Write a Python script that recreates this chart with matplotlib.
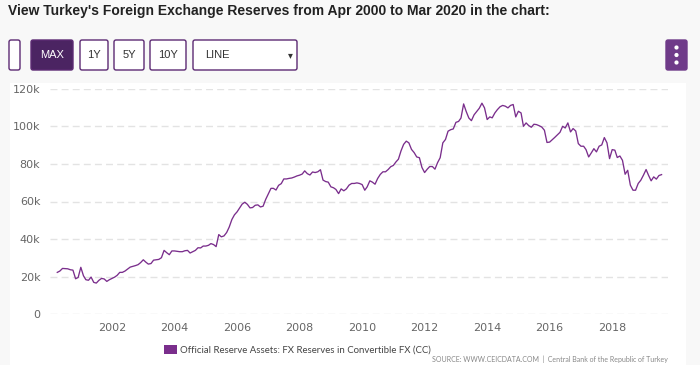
"""Turkey FX reserves (CEIC style line chart) -> out.png"""

import matplotlib

matplotlib.use("Agg")
import matplotlib.dates as mdates
import matplotlib.pyplot as plt
import pandas as pd
from matplotlib.patches import Circle, FancyBboxPatch, Rectangle

W, H = 700, 365

TITLE = "View Turkey's Foreign Exchange Reserves from Apr 2000 to Mar 2020 in the chart:"
SERIES_NAME = "Official Reserve Assets: FX Reserves in Convertible FX (CC)"
SOURCE_LEFT = "SOURCE: WWW.CEICDATA.COM"
SOURCE_RIGHT = "Central Bank of the Republic of Turkey"
START = "2000-04-01"

# monthly values in USD bn (plotted x1000 -> USD mn)
fx_2000 = [22.3, 23.0, 24.4, 24.3, 24.2, 23.7, 23.5, 18.9, 19.6]
fx_2001 = [25.0, 20.5, 18.4, 18.1, 19.8, 17.0, 16.6, 18.1, 19.1, 18.8, 17.5, 18.4]
fx_2002 = [19.1, 19.8, 20.7, 22.3, 22.3, 23.0, 24.0, 25.1, 25.5, 25.9, 26.4, 27.5]
fx_2003 = [29.0, 27.7, 26.7, 27.0, 28.8, 29.0, 29.2, 30.1, 34.0, 32.8, 31.7, 33.7]
fx_2004 = [33.7, 33.5, 33.3, 33.3, 33.8, 34.0, 32.6, 33.3, 34.0, 35.4, 35.3, 36.3]
fx_2005 = [36.3, 36.7, 37.6, 37.1, 36.0, 42.4, 41.2, 41.7, 43.5, 46.4, 50.4, 52.9]
fx_2006 = [54.5, 56.6, 58.6, 59.6, 58.5, 56.6, 56.8, 58.0, 58.2, 57.1, 57.5, 61.1]
fx_2007 = [64.1, 67.0, 67.0, 66.1, 68.6, 69.5, 72.0, 72.0, 72.3, 72.5, 73.0, 73.6]
fx_2008 = [74.0, 74.6, 76.3, 74.8, 74.1, 75.7, 75.4, 75.8, 76.9, 71.4, 70.6, 70.3]
fx_2009 = [67.8, 67.3, 66.4, 64.2, 66.7, 65.7, 66.7, 68.7, 69.6, 69.6, 69.9, 69.6]
fx_2010 = [69.0, 66.0, 67.8, 71.0, 70.3, 69.2, 72.2, 74.4, 75.8, 75.8, 77.0, 78.5]
fx_2011 = [79.2, 81.1, 82.5, 87.0, 90.4, 92.1, 91.2, 87.7, 86.0, 83.7, 83.3, 78.1]
fx_2012 = [75.4, 77.2, 78.6, 78.6, 77.2, 80.7, 83.3, 91.2, 93.0, 97.4, 98.2, 98.6]
fx_2013 = [102.1, 102.6, 104.4, 111.9, 107.9, 104.4, 103.0, 106.1, 107.9, 109.6, 112.3, 109.8]
fx_2014 = [103.6, 105.0, 104.5, 107.1, 108.9, 110.4, 111.1, 110.7, 109.8, 111.1, 111.6, 105.0]
fx_2015 = [108.0, 107.1, 100.0, 101.8, 100.4, 99.5, 101.1, 100.9, 100.3, 99.6, 97.9, 91.4]
fx_2016 = [91.6, 92.9, 94.1, 95.5, 96.8, 100.0, 99.1, 101.8, 97.0, 98.8, 97.5, 90.8]
fx_2017 = [89.4, 89.4, 87.6, 83.7, 85.8, 88.1, 86.4, 89.4, 90.1, 94.0, 91.2, 82.8]
fx_2018 = [87.6, 87.3, 83.4, 84.2, 81.9, 74.5, 76.6, 68.7, 66.0, 66.0, 69.6, 71.3]
fx_2019 = [74.0, 77.0, 74.0, 71.0, 73.1, 71.9, 73.8, 74.3]

y_ticks = [0, 20, 40, 60, 80, 100, 120]
y_tick_labels = ["0", "20k", "40k", "60k", "80k", "100k", "120k"]
x_tick_years = [2002, 2004, 2006, 2008, 2010, 2012, 2014, 2016, 2018]

range_buttons = ["MAX", "1Y", "5Y", "10Y"]

PURPLE = "#7a2e8c"
DARK_PURPLE = "#4b2462"
BORDER = "#5c2a73"


def main() -> None:
    values = (fx_2000 + fx_2001 + fx_2002 + fx_2003 + fx_2004 + fx_2005 + fx_2006
              + fx_2007 + fx_2008 + fx_2009 + fx_2010 + fx_2011 + fx_2012 + fx_2013
              + fx_2014 + fx_2015 + fx_2016 + fx_2017 + fx_2018 + fx_2019)
    dates = pd.date_range(START, periods=len(values), freq="MS")
    values = [v * 1000 for v in values]

    fig = plt.figure(figsize=(W / 100, H / 100), dpi=100)
    fig.patch.set_facecolor("#f8f8f8")

    # pixel canvas for the page furniture
    bg = fig.add_axes([0, 0, 1, 1], zorder=0)
    bg.set_xlim(0, W)
    bg.set_ylim(H, 0)
    bg.axis("off")

    bg.add_patch(Rectangle((10, 83), 676, 282, facecolor="white", edgecolor="none"))

    bg.text(8, 11, TITLE, fontsize=10, fontweight="bold", family="Liberation Sans",
            color="#222222", va="center", ha="left")

    # buttons
    bg.add_patch(FancyBboxPatch((9, 40), 11, 30, boxstyle="round,pad=0,rounding_size=2",
                                facecolor="white", edgecolor=BORDER, lw=1))
    spans = [(31, 73), (80, 108), (114, 144), (150, 186)]
    for label, (x0, x1) in zip(range_buttons, spans):
        active = label == "MAX"
        bg.add_patch(FancyBboxPatch((x0, 40), x1 - x0, 30,
                                    boxstyle="round,pad=0,rounding_size=2",
                                    facecolor=DARK_PURPLE if active else "white",
                                    edgecolor=BORDER, lw=1))
        bg.text((x0 + x1) / 2, 55.5, label, fontsize=8, family="Liberation Sans",
                color="white" if active else "#333333", ha="center", va="center")
    bg.add_patch(FancyBboxPatch((193, 40), 104, 30, boxstyle="round,pad=0,rounding_size=2",
                                facecolor="white", edgecolor=BORDER, lw=1))
    bg.text(205, 55.5, "LINE", fontsize=8, family="Liberation Sans", color="#333333",
            ha="left", va="center")
    bg.text(290, 55, "\u25be", fontsize=7, family="DejaVu Sans", color="#333333",
            ha="center", va="center")

    bg.add_patch(FancyBboxPatch((666, 40), 21, 30, boxstyle="round,pad=0,rounding_size=2",
                                facecolor="#6f3b89", edgecolor="#6f3b89", lw=1))
    for dy in (47.5, 55, 62.5):
        bg.add_patch(Circle((676.5, dy), 2.1, facecolor="white", edgecolor="none"))

    # legend + source
    bg.add_patch(Rectangle((164, 345), 13, 9, facecolor=PURPLE, edgecolor="none"))
    bg.text(180, 350, SERIES_NAME, fontsize=6.9, family="Lato", color="#444444",
            ha="left", va="center")
    bg.text(668, 359.5, SOURCE_LEFT + "  |  " + SOURCE_RIGHT, fontsize=5.0, family="Lato",
            color="#888888", ha="right", va="center")

    # chart
    ax = fig.add_axes([50 / W, 1 - 314.3 / H, 618 / W, 225.6 / H], zorder=1)
    ax.set_facecolor("none")
    ax.plot(dates, values, color=PURPLE, lw=0.95, solid_joinstyle="round")

    ax.set_ylim(0, 120000)
    ax.set_yticks([t * 1000 for t in y_ticks])
    ax.set_yticklabels(y_tick_labels)
    ax.set_xlim(pd.Timestamp("2000-01-07"), pd.Timestamp("2019-10-15"))
    ax.set_xticks([pd.Timestamp(f"{y}-01-01") for y in x_tick_years])
    ax.xaxis.set_major_formatter(mdates.DateFormatter("%Y"))

    ax.grid(axis="y", color="#e3e3e3", lw=1, linestyle=(0, (5, 3)))
    ax.set_axisbelow(True)
    for side in ax.spines.values():
        side.set_visible(False)
    ax.tick_params(length=0, labelsize=8, labelcolor="#666666")
    ax.tick_params(axis="y", pad=7)
    ax.tick_params(axis="x", pad=6)

    fig.savefig("out.png", dpi=100, facecolor=fig.get_facecolor())
    plt.close(fig)


if __name__ == "__main__":
    main()
